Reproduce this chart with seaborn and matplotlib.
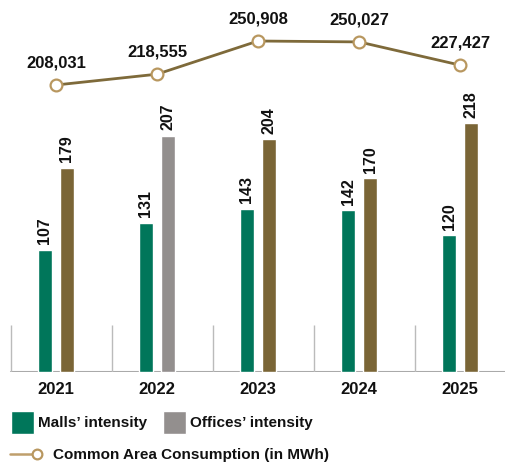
import numpy as np
import pandas as pd
import matplotlib
matplotlib.use("Agg")
import matplotlib.pyplot as plt
import seaborn as sns
from matplotlib.patches import Patch
from matplotlib.lines import Line2D
from matplotlib.legend_handler import HandlerBase

years = ["2021", "2022", "2023", "2024", "2025"]
malls_intensity = [107, 131, 143, 142, 120]
offices_intensity = [179, 207, 204, 170, 218]
consumption = [208031, 218555, 250908, 250027, 227427]

GREEN = "#00765A"
BROWN = "#7A6536"
GREY = "#938F8E"
LINE = "#7E6A3A"
MARK = "#B8975F"
office_colors = [BROWN, GREY, BROWN, BROWN, BROWN]

sns.set_theme(style="white")
plt.rcParams["font.family"] = ["Liberation Sans", "DejaVu Sans"]
plt.rcParams["font.weight"] = "bold"

W, H = 506, 463
fig = plt.figure(figsize=(W / 100, H / 100), dpi=100)
base_px = 372
ax = fig.add_axes([0, (H - base_px) / H, 1, base_px / H])

df = pd.DataFrame({
    "year": years * 2,
    "value": malls_intensity + offices_intensity,
    "type": ["Malls’ intensity"] * 5 + ["Offices’ intensity"] * 5,
})
sns.barplot(data=df, x="year", y="value", hue="type",
            palette=[GREEN, BROWN], width=0.436, gap=0.36,
            ax=ax, legend=False, saturation=1)
for patch, c in zip(ax.containers[1], office_colors):
    patch.set_facecolor(c)
for cont in ax.containers:
    ax.bar_label(cont, rotation=90, padding=4, fontsize=11.5, fontweight="bold",
                 color="#111111")

ax.set_xlim(-0.554, 4.455)
ax.set_ylim(0, base_px / 1.14)
for s in ax.spines.values():
    s.set_visible(False)
ax.set_yticks([])
ax.set_xlabel("")
ax.set_ylabel("")
ax.set_xticks(range(5))
ax.set_xticklabels(years, fontsize=12, fontweight="bold", color="#111111")
ax.tick_params(axis="x", length=0, pad=7.5)
ax.axhline(0, xmin=(11 / W), xmax=1, color="#AAAAAA", lw=1.5, zorder=0)
ax.vlines([i - 0.45 for i in range(5)], 0, 41, color="#BBBBBB", lw=1, zorder=0)

ax2 = ax.twinx()
ax2.set_ylim(-71696, 290877)
sns.lineplot(x=np.arange(5), y=consumption, ax=ax2, color=LINE, lw=2,
             marker="o", markersize=8.5, markerfacecolor="white",
             markeredgecolor=MARK, markeredgewidth=1.6)
for i, v in enumerate(consumption):
    ax2.annotate(f"{v:,}", (i, v), xytext=(0, 16), textcoords="offset points",
                 ha="center", va="center", fontsize=12, fontweight="bold",
                 color="#111111")
ax2.set_yticks([])
for s in ax2.spines.values():
    s.set_visible(False)
ax2.set_xlim(-0.554, 4.455)

h1 = [Patch(facecolor=GREEN, label="Malls’ intensity"),
      Patch(facecolor=GREY, label="Offices’ intensity")]
leg1 = fig.legend(handles=h1, loc="upper left", bbox_to_anchor=(11 / W, 1 - 411 / H),
                  ncol=2, frameon=False, fontsize=11, borderpad=0, borderaxespad=0,
                  handlelength=1.5, handleheight=1.95, handletextpad=0.26,
                  columnspacing=1.05)
for t in leg1.get_texts():
    t.set_fontweight("bold")
    t.set_color("#111111")


class EndMarkerHandler(HandlerBase):
    def create_artists(self, legend, orig_handle, xdescent, ydescent,
                       width, height, fontsize, trans):
        y = height / 2 - ydescent
        x0, x1 = -xdescent, width - xdescent
        r = 3.6
        ln = Line2D([x0, x1 - r * 2], [y, y], color=orig_handle.get_color(),
                    lw=orig_handle.get_linewidth(), transform=trans)
        mk = Line2D([x1 - r], [y], marker="o", markersize=orig_handle.get_markersize(),
                    markerfacecolor="white", markeredgecolor=orig_handle.get_markeredgecolor(),
                    markeredgewidth=orig_handle.get_markeredgewidth(), linestyle="none",
                    transform=trans)
        return [ln, mk]


lh = Line2D([0, 1], [0, 0], color="#BF9F6C", lw=1.8, marker="o", markersize=7,
            markerfacecolor="white", markeredgecolor=MARK, markeredgewidth=1.6,
            label="Common Area Consumption (in MWh)")
leg2 = fig.legend(handles=[lh], loc="upper left", bbox_to_anchor=(10 / W, 1 - 448 / H),
                  frameon=False, fontsize=11, borderpad=0, borderaxespad=0,
                  handlelength=2.1, handletextpad=0.7,
                  handler_map={Line2D: EndMarkerHandler()})
for t in leg2.get_texts():
    t.set_fontweight("bold")
    t.set_color("#111111")

fig.savefig("out.png", dpi=100)
